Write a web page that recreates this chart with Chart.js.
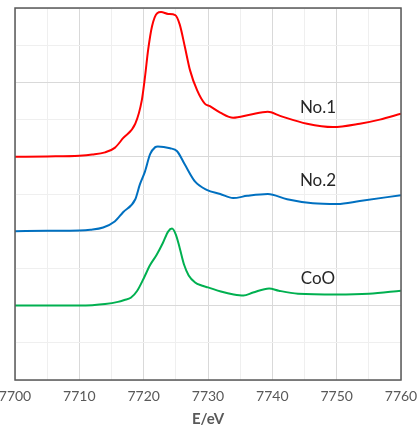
<!DOCTYPE html>
<html>
<head>
<meta charset="utf-8">
<script src="https://cdn.jsdelivr.net/npm/chart.js@4"></script>
<style>
    html, body { margin: 0; padding: 0; background: #fff; }
    #wrap { width: 418px; height: 428px; }
</style>
</head>
<body>
<div id="wrap"><canvas id="xanesChart"></canvas></div>
<script>
// Spectra (energy in eV, offset intensity)
const no1Energy = [7700, 7705, 7710, 7712, 7714, 7715.5, 7716.8, 7718.7, 7719.7, 7720.2, 7720.7, 7721.3, 7722.1, 7722.7, 7723.8, 7724.9, 7725.6, 7726.4, 7727.2, 7728.3, 7729.5, 7730.3, 7731.9, 7733.9, 7736.5, 7739.3, 7741.2, 7745.4, 7749.4, 7753.6, 7756.7, 7760];
const no1Values = [6.0, 6.01, 6.03, 6.06, 6.12, 6.24, 6.5, 6.89, 7.51, 8.14, 8.88, 9.51, 9.86, 9.89, 9.84, 9.81, 9.56, 8.96, 8.33, 7.79, 7.43, 7.36, 7.19, 7.05, 7.13, 7.21, 7.1, 6.89, 6.8, 6.89, 7.0, 7.16];

const no2Energy = [7700, 7705, 7710, 7711.7, 7713.7, 7715.5, 7716.8, 7718.7, 7719.4, 7720.2, 7721.0, 7721.8, 7722.2, 7724.1, 7725.2, 7726.4, 7728.0, 7729.8, 7731.9, 7733.9, 7736.1, 7739.3, 7742.3, 7746.3, 7750.1, 7753.6, 7760];
const no2Values = [4.0, 4.01, 4.02, 4.04, 4.1, 4.26, 4.51, 4.86, 5.25, 5.6, 6.07, 6.26, 6.28, 6.23, 6.15, 5.79, 5.33, 5.11, 5.0, 4.89, 4.95, 5.0, 4.86, 4.75, 4.73, 4.81, 4.97];

const cooEnergy = [7700, 7705, 7710, 7712, 7714, 7716, 7717, 7718, 7719, 7720, 7721, 7722, 7723, 7723.8, 7724.4, 7725, 7725.6, 7726.3, 7727, 7728, 7729, 7730, 7732, 7734, 7735.5, 7737, 7739.5, 7741, 7744, 7750, 7755, 7760];
const cooValues = [2.0, 2.0, 2.0, 2.01, 2.04, 2.1, 2.15, 2.21, 2.4, 2.73, 3.09, 3.36, 3.69, 3.99, 4.07, 3.91, 3.55, 3.09, 2.81, 2.62, 2.54, 2.49, 2.38, 2.3, 2.27, 2.35, 2.46, 2.4, 2.32, 2.3, 2.32, 2.4];

const seriesNames = ['No.1', 'No.2', 'CoO'];
const seriesColors = ['#ff0000', '#0070c0', '#00b050'];
// where each name sits, in data units
const labelEnergy = [7747.1, 7747.1, 7747.1];
const labelValue = [7.32, 5.36, 2.73];

const xMin = 7700, xMax = 7760;

function toPoints(xs, ys) {
    return xs.map((x, i) => ({ x: x, y: ys[i] }));
}

// Frame around the plot + curve names
const framePlugin = {
    id: 'frame',
    afterDatasetsDraw(chart) {
        const { ctx, chartArea, scales } = chart;
        ctx.save();
        ctx.strokeStyle = '#595959';
        ctx.lineWidth = 1.5;
        ctx.strokeRect(chartArea.left, chartArea.top, chartArea.right - chartArea.left, chartArea.bottom - chartArea.top);

        ctx.fillStyle = '#262626';
        ctx.font = '17px Lato, "Open Sans", sans-serif';
        ctx.textAlign = 'center';
        ctx.textBaseline = 'middle';
        seriesNames.forEach((name, i) => {
            ctx.fillText(name, scales.x.getPixelForValue(labelEnergy[i]), scales.y.getPixelForValue(labelValue[i]));
        });
        ctx.restore();
    }
};

const ctx = document.getElementById('xanesChart').getContext('2d');
new Chart(ctx, {
    type: 'line',
    data: {
        datasets: [
            { label: seriesNames[0], data: toPoints(no1Energy, no1Values), borderColor: seriesColors[0] },
            { label: seriesNames[1], data: toPoints(no2Energy, no2Values), borderColor: seriesColors[1] },
            { label: seriesNames[2], data: toPoints(cooEnergy, cooValues), borderColor: seriesColors[2] }
        ]
    },
    options: {
        responsive: true,
        maintainAspectRatio: false,
        animation: false,
        datasets: {
            line: {
                borderWidth: 2,
                pointRadius: 0,
                cubicInterpolationMode: 'monotone',
                fill: false
            }
        },
        layout: {
            padding: { left: 15, right: 17, top: 8, bottom: 0 }
        },
        scales: {
            x: {
                type: 'linear',
                min: xMin,
                max: xMax,
                afterFit: s => { s.paddingLeft = 0; s.paddingRight = 0; },
                grid: {
                    drawTicks: false,
                    color: c => (c.tick && c.tick.value % 10 === 0) ? '#d9d9d9' : '#efefef'
                },
                border: { display: false },
                ticks: {
                    stepSize: 5,
                    padding: 9,
                    maxRotation: 0,
                    autoSkip: false,
                    color: '#595959',
                    font: { size: 14, lineHeight: 1, family: 'Lato, "Open Sans", sans-serif' },
                    callback: v => (v % 10 === 0 ? String(v) : '')
                },
                title: {
                    display: true,
                    text: 'E/eV',
                    color: '#595959',
                    padding: { top: 0, bottom: 1 },
                    font: { size: 15, lineHeight: 1, weight: 'bold', family: 'Lato, "Open Sans", sans-serif' }
                }
            },
            y: {
                min: 0,
                max: 10,
                afterFit: s => { s.width = 0; },
                grid: {
                    drawTicks: false,
                    color: c => (c.tick && c.tick.value % 2 === 0) ? '#d9d9d9' : '#efefef'
                },
                border: { display: false },
                ticks: { display: false, stepSize: 1 }
            }
        },
        plugins: {
            legend: { display: false },
            tooltip: { enabled: false }
        }
    },
    plugins: [framePlugin]
});
</script>
</body>
</html>
